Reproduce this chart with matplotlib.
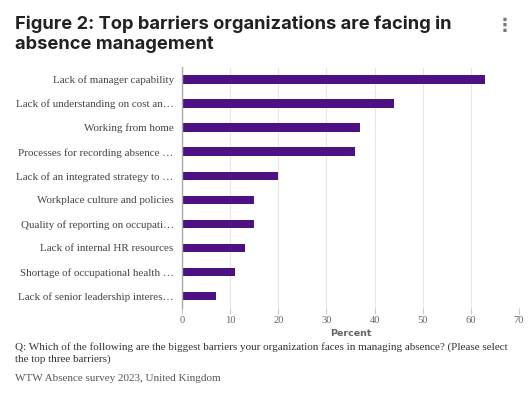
import matplotlib
matplotlib.use("Agg")
import matplotlib.pyplot as plt
import numpy as np

# data
barriers = [
    "Lack of manager capability",
    "Lack of understanding on cost an\u2026",
    "Working from home",
    "Processes for recording absence \u2026",
    "Lack of an integrated strategy to \u2026",
    "Workplace culture and policies",
    "Quality of reporting on occupati\u2026",
    "Lack of internal HR resources",
    "Shortage of occupational health \u2026",
    "Lack of senior leadership interes\u2026",
]
percent = [63, 44, 37, 36, 20, 15, 15, 13, 11, 7]
xticks = [0, 10, 20, 30, 40, 50, 60, 70]

W, H = 531, 394
fig = plt.figure(figsize=(W / 100, H / 100), dpi=100)
fig.patch.set_facecolor("white")

left, right, top, bottom = 182, 519, 67.5, 308
ax = fig.add_axes([left / W, 1 - bottom / H, (right - left) / W, (bottom - top) / H])

y = np.arange(len(barriers))
ax.barh(y, percent, height=0.35, color="#4e1184", zorder=3)
ax.set_ylim(len(barriers) - 0.5, -0.5)
ax.set_xlim(0, 70)

ax.set_yticks(y)
ax.set_yticklabels(barriers, family="Liberation Serif", fontsize=7.9, color="#444444")
ax.set_xticks(xticks)
ax.set_xticklabels([str(t) for t in xticks], family="Liberation Serif", fontsize=7.6, color="#666666")
ax.tick_params(axis="y", length=0, pad=6)
ax.tick_params(axis="x", length=4, color="#cccccc", pad=2)

ax.grid(axis="x", color="#e6e6e6", linewidth=0.8, zorder=0)
for s in ["top", "right", "bottom"]:
    ax.spines[s].set_visible(False)
ax.spines["left"].set_color("#aaaaaa")
ax.spines["left"].set_linewidth(1)
ax.spines["left"].set_zorder(4)

ax.set_xlabel("Percent", family="DejaVu Sans", fontsize=6.8, fontweight="bold", color="#666666", labelpad=3)

# title
fig.text(15 / W, 1 - 29 / H, "Figure 2: Top barriers organizations are facing in",
         family="Inter", fontsize=13.2, fontweight="bold", color="#222222")
fig.text(15 / W, 1 - 49 / H, "absence management",
         family="Inter", fontsize=13.2, fontweight="bold", color="#222222")
fig.text(505 / W, 1 - 26 / H, "\u22ee", family="DejaVu Sans", fontsize=13,
         fontweight="bold", color="#777777", ha="center", va="center")

# notes
fig.text(15 / W, 1 - 350 / H,
         "Q: Which of the following are the biggest barriers your organization faces in managing absence? (Please select",
         family="Liberation Serif", fontsize=8.05, color="#333333")
fig.text(15 / W, 1 - 361.5 / H, "the top three barriers)",
         family="Liberation Serif", fontsize=8.05, color="#333333")
fig.text(15 / W, 1 - 381 / H, "WTW Absence survey 2023, United Kingdom",
         family="Liberation Serif", fontsize=8.05, color="#555555")

fig.savefig("out.png", dpi=100)
